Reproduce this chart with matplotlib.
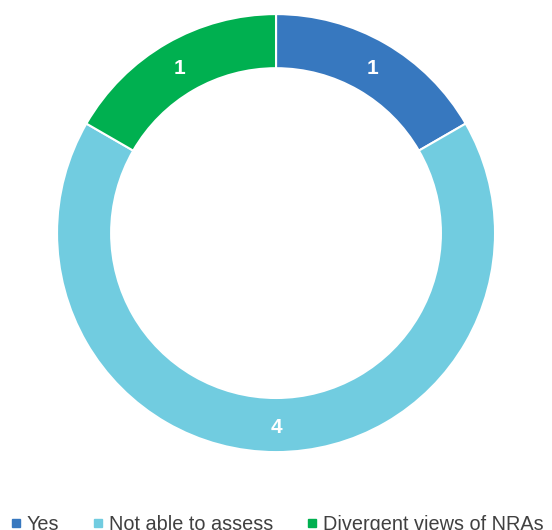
import matplotlib.pyplot as plt
from matplotlib.lines import Line2D

plt.rcParams['font.family'] = ['Liberation Sans', 'DejaVu Sans']

labels = ['Yes', 'Not able to assess', 'Divergent views of NRAs']
counts = [1, 4, 1]
colors = ['#3778BF', '#71CCE0', '#00B050']

fig = plt.figure(figsize=(5.52, 5.30), dpi=100)
ax = fig.add_axes([0.1033, 0.147, 0.7935, 0.8264])

wedges, texts = ax.pie(counts, colors=colors, startangle=90, counterclock=False,
                       radius=1, labels=[str(c) for c in counts], labeldistance=0.877,
                       wedgeprops=dict(width=0.247, edgecolor='white', linewidth=1.5),
                       textprops=dict(color='white', fontsize=15, fontweight='bold',
                                      ha='center', va='center_baseline'))
ax.set_xlim(-1, 1)
ax.set_ylim(-1, 1)
ax.set_aspect('equal')

# legend squares + labels along the bottom edge
handles = [Line2D([], [], marker='s', linestyle='none', markersize=5.5,
                  markerfacecolor=c, markeredgecolor=c) for c in colors]
fig.legend(handles, labels, loc='center left', bbox_to_anchor=(12 / 552, 0.011), ncol=3,
           frameon=False, fontsize=14.3, handletextpad=0.35, columnspacing=1.75,
           handlelength=0.4, borderpad=0, borderaxespad=0, labelcolor='#404040')

fig.savefig('out.png', dpi=100)
